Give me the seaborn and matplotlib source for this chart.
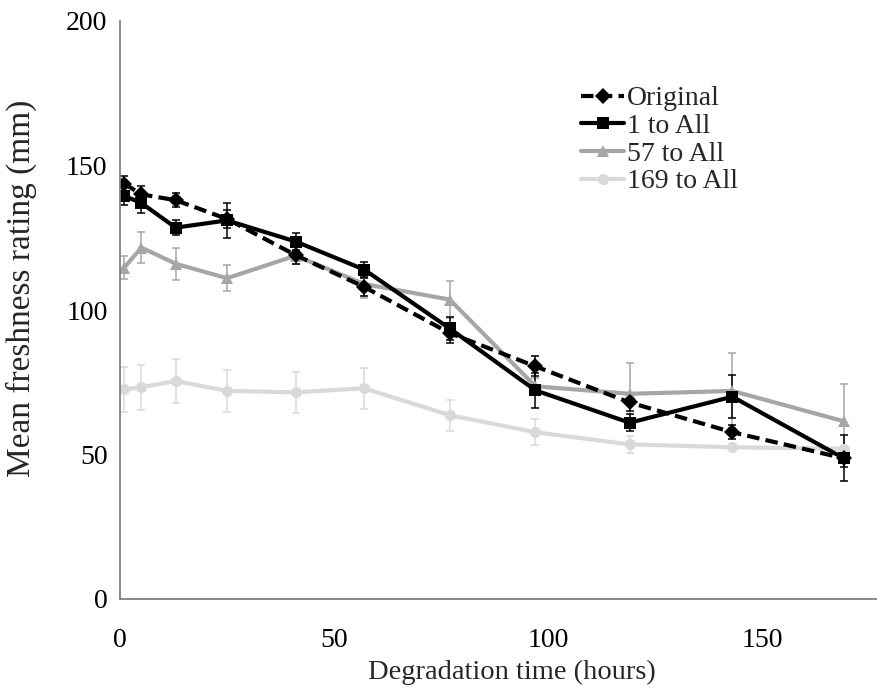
import matplotlib
matplotlib.use("Agg")
import matplotlib.pyplot as plt
import numpy as np
import pandas as pd
import seaborn as sns

# ── data ────────────────────────────────────────────────────────────────
HOURS = [1, 5, 13, 25, 41, 57, 77, 97, 119, 143, 169]

SERIES = ["Original", "1 to All", "57 to All", "169 to All"]

original     = [143.7, 140.0, 138.0, 131.5, 119.0, 108.0, 92.0, 80.5, 68.0, 57.7, 48.7]
original_err = [2.5, 3.0, 2.5, 3.0, 3.0, 3.0, 3.5, 3.5, 3.0, 2.5, 3.0]

one_all      = [139.5, 137.0, 128.5, 131.0, 123.7, 114.0, 93.6, 72.2, 61.0, 70.0, 48.7]
one_all_err  = [3.0, 3.5, 2.5, 6.0, 3.0, 2.5, 4.0, 6.0, 3.0, 7.5, 8.0]

s57_all      = [114.7, 121.6, 116.0, 111.0, 118.8, 109.0, 103.6, 73.6, 71.0, 72.0, 61.5]
s57_err      = [4.0, 5.5, 5.5, 4.5, 3.0, 5.0, 6.5, 3.0, 10.5, 13.0, 13.0]

s169_all     = [72.5, 73.3, 75.4, 72.0, 71.5, 72.9, 63.6, 57.7, 53.5, 52.5, 52.0]
s169_err     = [7.8, 7.8, 7.5, 7.4, 7.0, 7.0, 5.4, 4.5, 3.0, 1.0, 1.0]

COLORS  = {"Original": "#000000", "1 to All": "#000000",
           "57 to All": "#a6a6a6", "169 to All": "#d9d9d9"}
MARKERS = {"Original": "D", "1 to All": "s", "57 to All": "^", "169 to All": "o"}
DASHES  = {"Original": (3, 1.5), "1 to All": "", "57 to All": "", "169 to All": ""}

values = [original, one_all, s57_all, s169_all]
errors = [original_err, one_all_err, s57_err, s169_err]

df = pd.concat(
    [pd.DataFrame({"hours": HOURS, "rating": v, "err": e, "series": name})
     for name, v, e in zip(SERIES, values, errors)],
    ignore_index=True,
)

# ── plot ────────────────────────────────────────────────────────────────
sns.set_style("white")
plt.rcParams["font.family"] = ["Liberation Serif", "DejaVu Serif"]

fig = plt.figure(figsize=(8.78, 6.91), dpi=100)
ax = fig.add_axes([120 / 878, 92 / 691, 758 / 878, 578 / 691])

# error bars first so lines sit on top
for name in SERIES[::-1]:
    sub = df[df["series"] == name]
    ax.errorbar(sub["hours"], sub["rating"], yerr=sub["err"], fmt="none",
                ecolor=COLORS[name], elinewidth=1.1, capsize=3, capthick=1.1,
                zorder=1)

sns.lineplot(
    data=df, x="hours", y="rating", hue="series", style="series",
    hue_order=SERIES[::-1], style_order=SERIES[::-1],
    palette=COLORS, markers=MARKERS, dashes=DASHES,
    linewidth=3, markersize=8, markeredgewidth=0, ax=ax, zorder=2,
)

ax.set_xlim(0, 177)
ax.set_ylim(0, 200)
ax.set_xticks([0, 50, 100, 150])
ax.set_yticks([0, 50, 100, 150, 200])
ax.set_xlabel("Degradation time (hours)", fontsize=20.5, va="center")
ax.set_ylabel("Mean freshness rating (mm)", fontsize=24, va="center")
ax.xaxis.set_label_coords((512 - 120) / 758, -(673 - 600) / 578)
ax.yaxis.set_label_coords(-(120 - 21) / 758, (600 - 289) / 578)
ax.tick_params(axis="both", direction="in", length=6, width=1,
               colors="#808080", labelcolor="black", labelsize=20)
ax.tick_params(axis="x", pad=21)
ax.tick_params(axis="y", pad=9)

sns.despine(ax=ax)
for side in ("left", "bottom"):
    ax.spines[side].set_color("#808080")
    ax.spines[side].set_linewidth(1.3)

handles, labels = ax.get_legend_handles_labels()
order = [labels.index(s) for s in SERIES]
ax.legend([handles[i] for i in order], [labels[i] for i in order],
          loc="upper left", bbox_to_anchor=(581 / 878, 1 - 86 / 691),
          bbox_transform=fig.transFigure, frameon=False, fontsize=20,
          handlelength=1.55, handletextpad=0.1, labelspacing=0.08,
          borderpad=0, borderaxespad=0)

fig.savefig("out.png", dpi=100)
plt.close(fig)
